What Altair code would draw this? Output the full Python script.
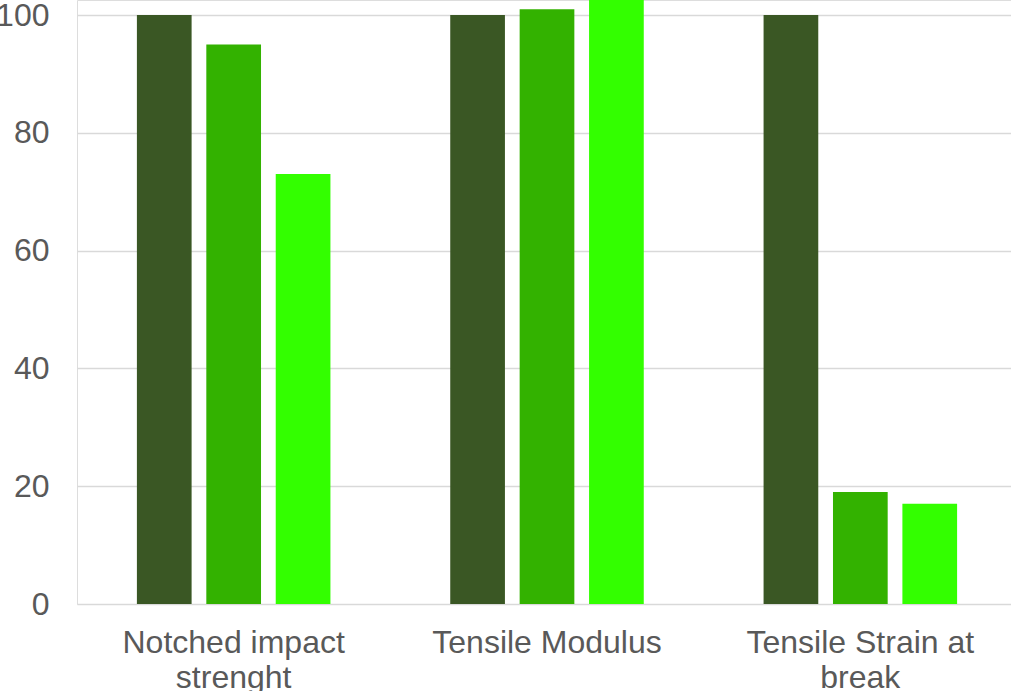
import altair as alt
import pandas as pd

# Property groups on the x axis, and how their names wrap onto two lines
categories = ["Notched impact strenght", "Tensile Modulus", "Tensile Strain at break"]
category_lines = [["Notched impact", "strenght"], ["Tensile Modulus"], ["Tensile Strain at", "break"]]

# Three series, relative values (reference = 100)
series = ["Series 1", "Series 2", "Series 3"]
series_colors = ["#3A5724", "#33B200", "#33FF00"]
values = {
    "Series 1": [100, 100, 100],
    "Series 2": [95, 101, 19],
    "Series 3": [73, 105, 17],
}

y_ticks = [0, 20, 40, 60, 80, 100]

rows = []
for s in series:
    for c, v in zip(categories, values[s]):
        rows.append({"category": c, "series": s, "value": v})
df = pd.DataFrame(rows)

# Build a label expression that splits each category name into its lines
label_expr = "datum.value"
for c, lines in reversed(list(zip(categories, category_lines))):
    arr = "[" + ", ".join("'" + l + "'" for l in lines) + "]"
    label_expr = f"datum.value == '{c}' ? {arr} : ({label_expr})"

FONT = "Liberation Sans"
TEXT = "#595959"

chart = (
    alt.Chart(df)
    .mark_bar(clip=True)
    .encode(
        x=alt.X(
            "category:N",
            sort=categories,
            scale=alt.Scale(range=[0, 940], paddingInner=0, paddingOuter=0),
            axis=alt.Axis(
                title=None,
                labelAngle=0,
                labelExpr=label_expr,
                labelFont=FONT,
                labelFontSize=32,
                labelLineHeight=35,
                labelColor=TEXT,
                labelPadding=23,
                labelLimit=400,
                domain=False,
                ticks=False,
                grid=False,
            ),
        ),
        xOffset=alt.XOffset(
            "series:N",
            sort=series,
            scale=alt.Scale(paddingInner=0.212, paddingOuter=0.863),
        ),
        y=alt.Y(
            "value:Q",
            scale=alt.Scale(domain=[0, 102.55], nice=False, zero=True),
            axis=alt.Axis(
                title=None,
                values=y_ticks,
                labelFont=FONT,
                labelFontSize=32,
                labelColor=TEXT,
                labelPadding=28,
                domain=False,
                ticks=False,
                grid=True,
                gridColor="#D9D9D9",
                gridWidth=1.6,
            ),
        ),
        color=alt.Color(
            "series:N",
            sort=series,
            scale=alt.Scale(domain=series, range=series_colors),
            legend=None,
        ),
    )
    .properties(
        width=934,
        height=604,
        autosize=alt.AutoSizeParams(type="none"),
        padding={"left": 77, "top": 0, "right": 0, "bottom": 87},
    )
    .configure_view(stroke=None)
    .configure(background="white")
)

chart.save("out.html", embed_options={"renderer": "svg", "actions": False})
